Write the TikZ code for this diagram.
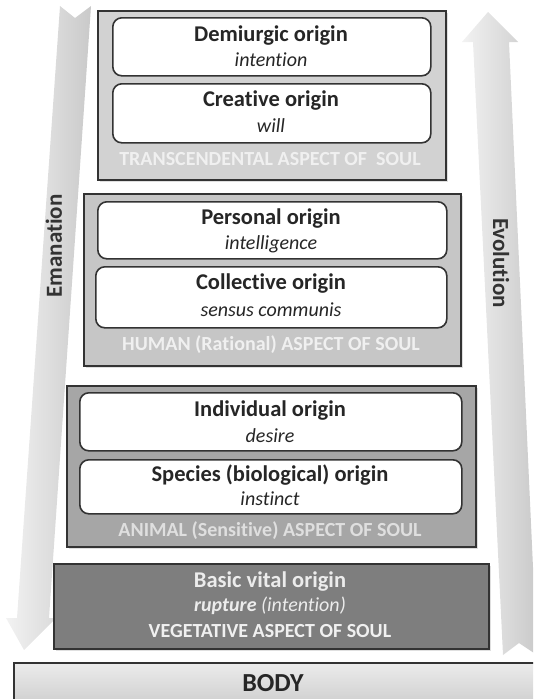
\documentclass[tikz,border=0pt]{standalone}
\usepackage{fontspec}
\setmainfont[Ligatures=NoCommon]{Carlito}
\usetikzlibrary{shadows}
\definecolor{edge}{HTML}{333333}
\definecolor{gone}{HTML}{D2D2D2}
\definecolor{gtwo}{HTML}{C6C6C6}
\definecolor{gthree}{HTML}{A6A6A6}
\definecolor{gfour}{HTML}{7E7E7E}
\begin{document}
\begin{tikzpicture}[x=1pt,y=-1pt,
  group/.style={draw=edge, line width=1.8pt, anchor=north west, inner sep=0pt,
    drop shadow={opacity=0.25, shadow xshift=2pt, shadow yshift=-2pt}},
  originbox/.style={draw=edge, line width=1.6pt, fill=white, rounded corners=9pt, anchor=north west, inner sep=0pt},
  title/.style={font=\fontsize{22.5}{26}\selectfont\bfseries, text=black!85, inner sep=0pt},
  sub/.style={font=\fontsize{20}{23}\selectfont\itshape, text=black!85, inner sep=0pt},
  aspect/.style={font=\fontsize{20}{23}\selectfont\bfseries, inner sep=0pt},
  arrowlbl/.style={font=\fontsize{23}{26}\selectfont\bfseries, text=black!80, inner sep=0pt},
  bigarrow/.style={left color=gray!10, right color=gray!42, draw=none}
]
\useasboundingbox (0,0) rectangle (533,699);
\clip (0,0) rectangle (533,699);

% Emanation arrow (down, left side)
\path[bigarrow] (60,6) -- (75,18) -- (91,6) -- (49,618) -- (56,618) -- (24,650) -- (6,618) -- (17,618) -- cycle;
% Evolution arrow (up, right side)
\path[bigarrow] (488,12) -- (518,42) -- (509,42) -- (537,655) -- (519,643) -- (503,655) -- (473,42) -- (462,42) -- cycle;

\node[arrowlbl, rotate=90] (eman) at (54,246) {Emanation};
\node[arrowlbl, rotate=-90] (evol) at (501,263) {Evolution};

% Transcendental group
\node[group, fill=gone, minimum width=348pt, minimum height=169pt] (gA) at (97,10) {};
\node[originbox, minimum width=318pt, minimum height=58pt] (demi) at (112,17) {};
\node[originbox, minimum width=318pt, minimum height=59pt] (crea) at (112,83) {};
\node[title] (demiT) at (271,36) {Demiurgic origin};
\node[sub] (demiS) at (271,60) {intention};
\node[title] (creaT) at (271,101) {Creative origin};
\node[sub] (creaS) at (271,126) {will};
\node[aspect, text=gray!12] (aspA) at (270,159) {TRANSCENDENTAL ASPECT OF \ SOUL};

% Human group
\node[group, fill=gtwo, minimum width=377pt, minimum height=172pt] (gB) at (83,193) {};
\node[originbox, minimum width=349pt, minimum height=57pt] (pers) at (97,201) {};
\node[originbox, minimum width=351pt, minimum height=61pt] (coll) at (95,266) {};
\node[title] (persT) at (271,219) {Personal origin};
\node[sub] (persS) at (271,244) {intelligence};
\node[title] (collT) at (271,284) {Collective origin};
\node[sub] (collS) at (271,310) {sensus communis};
\node[aspect, text=gray!12] (aspB) at (271,345) {HUMAN (Rational) ASPECT OF SOUL};

% Animal group
\node[group, fill=gthree, minimum width=409pt, minimum height=161pt] (gC) at (66,385) {};
\node[originbox, minimum width=382pt, minimum height=58pt] (indiv) at (79,392) {};
\node[originbox, minimum width=382pt, minimum height=54pt] (spec) at (79,459) {};
\node[title] (indivT) at (270,411) {Individual origin};
\node[sub] (indivS) at (270,436) {desire};
\node[title] (specT) at (270,475) {Species (biological) origin};
\node[sub] (specS) at (270,499) {instinct};
\node[aspect, text=gray!25] (aspC) at (270,531) {ANIMAL (Sensitive) ASPECT OF SOUL};

% Vegetative group
\node[group, fill=gfour, minimum width=435pt, minimum height=85pt] (gD) at (53,563) {};
\node[title, text=gray!15] (vegT) at (270,582) {Basic vital origin};
\node[sub, text=gray!15] (vegS) at (270,606) {\textbf{rupture} (intention)};
\node[aspect, text=gray!12] (aspD) at (270,631) {VEGETATIVE ASPECT OF SOUL};

% Body
\node[draw=edge, line width=1.8pt, anchor=north west, inner sep=0pt, minimum width=530pt, minimum height=45pt,
  top color=gray!15, bottom color=gray!40] (body) at (13,662) {};
\node[font=\fontsize{26}{29}\selectfont\bfseries, text=black!85, inner sep=0pt] (bodyT) at (273,683) {BODY};
\end{tikzpicture}
\end{document}
